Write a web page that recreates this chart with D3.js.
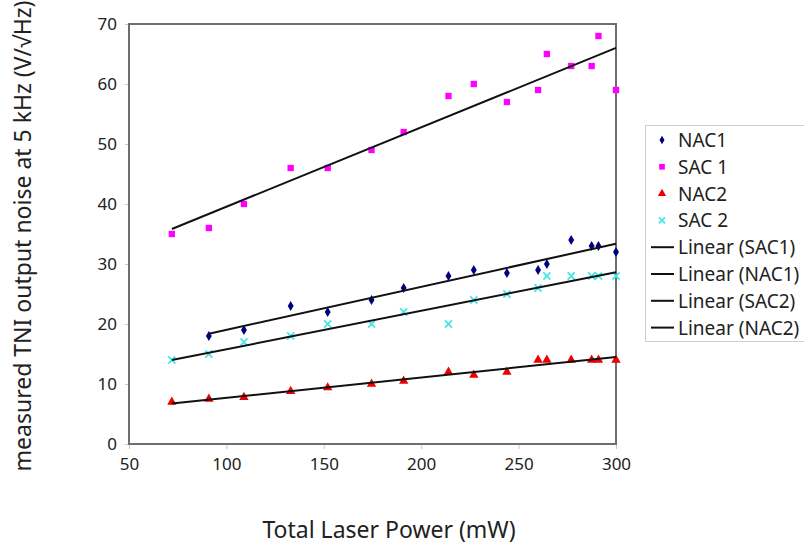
<!DOCTYPE html>
<html>
<head>
<meta charset="utf-8">
<script src="https://cdn.jsdelivr.net/npm/d3@7"></script>
<style>
  body { margin: 0; background: #fff; }
  svg text { font-family: "Noto Sans", "Open Sans", sans-serif; fill: #222; }
</style>
</head>
<body>
<svg id="chart" width="804" height="545"></svg>
<script>
// x positions (mW) shared by the measurements
const power = [72, 91, 109, 133, 152, 174.5, 191, 214, 227, 244, 260, 264.5, 277, 287.5, 291, 300];

// measured noise values per channel
const nac1 = [null, 18, 19, 23, 22, 24, 26, 28, 29, 28.5, 29, 30, 34, 33, 33, 32];
const sac1 = [35, 36, 40, 46, 46, 49, 52, 58, 60, 57, 59, 65, 63, 63, 68, 59];
const nac2 = [7, 7.5, 7.8, 8.8, 9.4, 10, 10.5, 12, 11.5, 12, 14, 14, 14, 14, 14, 14];
const sac2 = [14, 15, 17, 18, 20, 20, 22, 20, 24, 25, 26, 28, 28, 28, 28, 28];

const xTicks = [50, 100, 150, 200, 250, 300];
const yTicks = [0, 10, 20, 30, 40, 50, 60, 70];

const legendNames = ["NAC1", "SAC 1", "NAC2", "SAC 2",
  "Linear (SAC1)", "Linear (NAC1)", "Linear (SAC2)", "Linear (NAC2)"];

const svg = d3.select("#chart");

const x = d3.scaleLinear().domain([50, 300]).range([129, 616]);
const y = d3.scaleLinear().domain([0, 70]).range([444, 24]);

// series setup
const series = [
  { name: "NAC1", values: nac1, color: "#000080", symbol: d3.symbolDiamond, size: 30 },
  { name: "SAC 1", values: sac1, color: "#ff00ff", symbol: d3.symbolSquare, size: 40 },
  { name: "NAC2", values: nac2, color: "#ee0000", symbol: d3.symbolTriangle, size: 38 },
  { name: "SAC 2", values: sac2, color: "#44e6e6", symbol: d3.symbolX, size: 34, stroke: true }
];

function pointsOf(s) {
  return power.map((p, i) => [p, s.values[i]]).filter(d => d[1] != null);
}

// least squares line over the series' own x range
function fit(pts) {
  const mx = d3.mean(pts, d => d[0]);
  const my = d3.mean(pts, d => d[1]);
  const b = d3.sum(pts, d => (d[0] - mx) * (d[1] - my)) / d3.sum(pts, d => (d[0] - mx) ** 2);
  const a = my - b * mx;
  const x0 = d3.min(pts, d => d[0]);
  const x1 = d3.max(pts, d => d[0]);
  return [[x0, a + b * x0], [x1, a + b * x1]];
}

function styleMark(sel, s) {
  if (s.stroke) {
    sel.attr("fill", "none").attr("stroke", s.color).attr("stroke-width", 1.8);
  } else {
    sel.attr("fill", s.color);
  }
}

// axes
const xAxis = svg.append("g")
  .attr("transform", "translate(0,444)")
  .call(d3.axisBottom(x).tickValues(xTicks).tickSize(5).tickPadding(9));
const yAxis = svg.append("g")
  .attr("transform", "translate(129,0)")
  .call(d3.axisLeft(y).tickValues(yTicks).tickSize(4).tickPadding(8));
[xAxis, yAxis].forEach(g => {
  g.select(".domain").remove();
  g.selectAll(".tick line").attr("stroke", "#c8c8c8");
  g.selectAll(".tick text").style("font-size", "17px").attr("fill", "#222");
});

// plot frame
svg.append("rect")
  .attr("x", x(50)).attr("y", y(70))
  .attr("width", x(300) - x(50)).attr("height", y(0) - y(70))
  .attr("fill", "none").attr("stroke", "#6e6e6e").attr("stroke-width", 2);

// markers
series.forEach(s => {
  const marks = svg.append("g").selectAll("path")
    .data(pointsOf(s))
    .enter()
    .append("path")
    .attr("d", d3.symbol().type(s.symbol).size(s.size))
    .attr("transform", d => "translate(" + x(d[0]) + "," + y(d[1]) + ")");
  styleMark(marks, s);
});

// trend lines
const line = d3.line().x(d => x(d[0])).y(d => y(d[1]));
[sac1, nac1, sac2, nac2].forEach(v => {
  const s = series.find(t => t.values === v);
  svg.append("path")
    .attr("d", line(fit(pointsOf(s))))
    .attr("stroke", "#111").attr("stroke-width", 2).attr("fill", "none");
});

// axis titles
svg.append("text")
  .attr("x", 389).attr("y", 538)
  .attr("text-anchor", "middle")
  .style("font-size", "23px")
  .text("Total Laser Power (mW)");

svg.append("text")
  .attr("transform", "translate(31,236) rotate(-90)")
  .attr("text-anchor", "middle")
  .style("font-size", "23px")
  .text("measured TNI output noise at 5 kHz (V/\u221AHz)");

// legend
const legend = svg.append("g");
legend.append("rect")
  .attr("x", 645.5).attr("y", 125.5).attr("width", 170).attr("height", 216)
  .attr("fill", "#fff").attr("stroke", "#cfcfcf").attr("stroke-width", 1);

legendNames.forEach((name, i) => {
  const cy = 140 + i * 26.8;
  const row = legend.append("g").attr("transform", "translate(0," + cy + ")");
  if (i < 4) {
    const s = series[i];
    const mark = row.append("path")
      .attr("d", d3.symbol().type(s.symbol).size(s.size - 8))
      .attr("transform", "translate(662,0)");
    styleMark(mark, s);
  } else {
    row.append("line")
      .attr("x1", 651).attr("x2", 674)
      .attr("stroke", "#111").attr("stroke-width", 2);
  }
  row.append("text")
    .attr("x", 678).attr("y", 7)
    .style("font-size", "19px")
    .text(name);
});
</script>
</body>
</html>
